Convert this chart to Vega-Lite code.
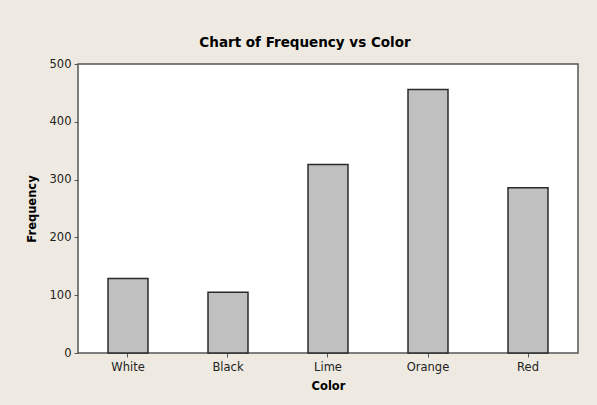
{
  "$schema": "https://vega.github.io/schema/vega-lite/v6.json",
  "autosize": {"type": "none"},
  "width": 500,
  "height": 289,
  "padding": {"left": 78, "top": 64, "right": 19, "bottom": 52},
  "background": "#EEEAE1",
  "title": {
    "text": "Chart of Frequency vs Color",
    "font": "DejaVu Sans",
    "fontSize": 13.5,
    "fontWeight": "bold",
    "color": "#000000",
    "anchor": "middle",
    "dx": -23,
    "offset": 9
  },
  "config": {
    "view": {"stroke": "#555555", "strokeWidth": 1.5, "fill": "#FFFFFF"},
    "axis": {
      "labelFont": "DejaVu Sans",
      "labelFontSize": 11.5,
      "labelColor": "#222222",
      "titleFont": "DejaVu Sans",
      "titleFontSize": 11.5,
      "titleFontWeight": "bold",
      "titleColor": "#000000",
      "tickColor": "#555555",
      "tickSize": 4,
      "domain": false,
      "grid": false
    }
  },
  "data": {
    "values": [
      {"Color": "White", "Frequency": 129},
      {"Color": "Black", "Frequency": 105},
      {"Color": "Lime", "Frequency": 326},
      {"Color": "Orange", "Frequency": 456},
      {"Color": "Red", "Frequency": 286}
    ]
  },
  "mark": {"type": "bar", "fill": "#C0C0C0", "stroke": "#2A2A2A", "strokeWidth": 1.5},
  "encoding": {
    "x": {
      "field": "Color",
      "type": "nominal",
      "sort": null,
      "scale": {"paddingInner": 0.6, "paddingOuter": 0.3},
      "axis": {"labelAngle": 0, "labelPadding": 4, "titlePadding": 8, "title": "Color"}
    },
    "y": {
      "field": "Frequency",
      "type": "quantitative",
      "scale": {"domain": [0, 500], "nice": false},
      "axis": {"values": [0, 100, 200, 300, 400, 500], "labelPadding": 3, "titlePadding": 12, "title": "Frequency"}
    }
  }
}
